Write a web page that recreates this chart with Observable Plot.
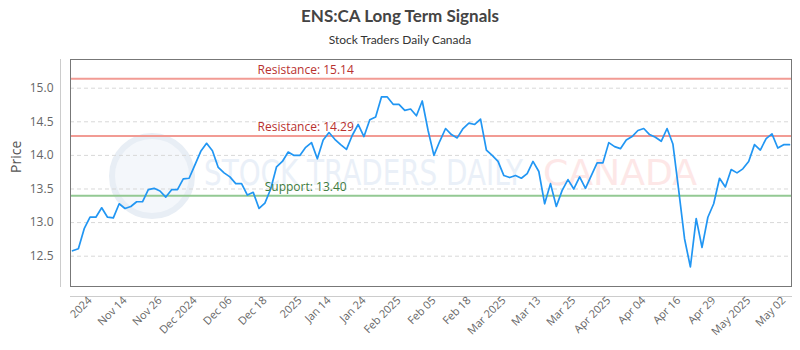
<!DOCTYPE html>
<html>
<head>
<meta charset="utf-8">
<script src="https://cdn.jsdelivr.net/npm/d3@7"></script>
<script src="https://cdn.jsdelivr.net/npm/@observablehq/plot@0.6"></script>
<style>
  html, body { margin: 0; padding: 0; background: #fff; }
  #wrap { width: 800px; }
  #title { height: 30px; line-height: 32px; text-align: center; font-family: Lato, sans-serif; font-weight: bold; font-size: 17px; color: #444; }
  #subtitle { height: 20px; line-height: 20px; text-align: center; font-family: Lato, sans-serif; font-size: 12px; color: #333; }
</style>
</head>
<body>
<div id="wrap">
  <div id="title">ENS:CA Long Term Signals</div>
  <div id="subtitle">Stock Traders Daily Canada</div>
  <div id="chart"></div>
</div>
<script>
// Daily closing prices
const prices = [
  12.58, 12.61, 12.91, 13.08, 13.08, 13.22, 13.08, 13.07, 13.28, 13.21,
  13.24, 13.31, 13.31, 13.49, 13.51, 13.47, 13.38, 13.49, 13.49, 13.65,
  13.66, 13.86, 14.06, 14.18, 14.07, 13.82, 13.74, 13.68, 13.58, 13.58,
  13.41, 13.45, 13.21, 13.29, 13.50, 13.83, 13.91, 14.05, 14.00, 14.00,
  14.12, 14.19, 13.95, 14.23, 14.34, 14.24, 14.16, 14.09, 14.30, 14.46,
  14.28, 14.53, 14.57, 14.87, 14.87, 14.76, 14.76, 14.67, 14.69, 14.59,
  14.81, 14.37, 14.00, 14.21, 14.40, 14.31, 14.26, 14.40, 14.48, 14.46,
  14.54, 14.08, 14.00, 13.91, 13.70, 13.67, 13.70, 13.66, 13.73, 13.91,
  13.76, 13.28, 13.58, 13.24, 13.48, 13.64, 13.50, 13.68, 13.51, 13.70,
  13.89, 13.89, 14.19, 14.13, 14.10, 14.23, 14.28, 14.37, 14.40, 14.31,
  14.27, 14.21, 14.40, 14.17, 13.48, 12.76, 12.34, 13.06, 12.63, 13.08,
  13.28, 13.66, 13.53, 13.79, 13.74, 13.80, 13.91, 14.16, 14.08, 14.25,
  14.32, 14.11, 14.16, 14.16
];

// X-axis tick positions (point index) and their labels
const tickIdx = [3, 9, 15, 21, 27, 33, 39, 44, 50, 56, 62, 68, 74, 80, 86, 92, 98, 104, 110, 116, 122];
const tickLabels = ["2024", "Nov 14", "Nov 26", "Dec 2024", "Dec 06", "Dec 18", "2025", "Jan 14", "Jan 24",
  "Feb 2025", "Feb 05", "Feb 18", "Mar 2025", "Mar 13", "Mar 25", "Apr 2025", "Apr 04", "Apr 16", "Apr 29",
  "May 2025", "May 02"];

// Y ticks
const yTicks = [12.5, 13.0, 13.5, 14.0, 14.5, 15.0];
const yLabel = "Price";

// Signal levels
const levelNames = ["Resistance", "Resistance", "Support"];
const levelValues = [15.14, 14.29, 13.40];
const levelLineColors = ["#f29b94", "#f29b94", "#93c993"];
const levelTextColors = ["#b8312f", "#b8312f", "#3d7a3d"];
const levelLabelIdx = 40;

const data = prices.map((p, i) => ({i, p}));
const levels = levelValues.map((v, k) => ({
  name: levelNames[k], value: v, line: levelLineColors[k], text: levelTextColors[k]
}));

const chart = Plot.plot({
  width: 800,
  height: 300,
  marginTop: 9,
  marginBottom: 64,
  marginLeft: 70,
  marginRight: 9,
  style: {fontFamily: "'Open Sans', sans-serif", fontSize: "11px", color: "#666", background: "transparent"},
  color: {type: "identity"},
  x: {domain: [-0.35, 123.35]},
  y: {domain: [12.049, 15.427]},
  marks: [
    Plot.gridY(yTicks, {stroke: "#d8d8d8", strokeOpacity: 1, strokeDasharray: "4,3"}),
    Plot.ruleY(levels, {y: "value", stroke: "line", strokeWidth: 2}),
    Plot.lineY(data, {x: "i", y: "p", stroke: "#2196f3", strokeWidth: 1.7}),
    Plot.text(levels, {
      x: () => levelLabelIdx, y: "value",
      text: d => `${d.name}: ${d.value.toFixed(2)}`,
      fill: "text", dy: -9, fontSize: 12, textAnchor: "middle"
    }),
    Plot.frame({stroke: "#777"}),
    Plot.frame({anchor: "left", dx: -10, stroke: "#ccc"}),
    Plot.frame({anchor: "bottom", dy: 10, stroke: "#ccc"}),
    Plot.axisY({
      ticks: yTicks, tickFormat: d3.format(".1f"), tickSize: 0, tickPadding: 17,
      fontSize: 12, label: null
    }),
    Plot.text([yLabel], {
      frameAnchor: "left", dx: -54, rotate: -90, fontSize: 14, fill: "#555", text: d => d
    }),
    Plot.axisX({
      ticks: tickIdx, tickFormat: d => tickLabels[tickIdx.indexOf(d)],
      tickRotate: -45, tickSize: 0, tickPadding: 12, fontSize: 11, label: null
    })
  ]
});

document.getElementById("chart").appendChild(chart);

// faint watermark behind the marks
const svg = d3.select(chart);
const wm = svg.insert("g", ":first-child").attr("aria-label", "watermark").attr("text-anchor", "start");
wm.append("circle").attr("cx", 152).attr("cy", 126).attr("r", 40)
  .attr("fill", "#f4f7fb").attr("stroke", "#e8eef5").attr("stroke-width", 6);
wm.append("text").attr("x", 204).attr("y", 135).attr("font-size", 35)
  .attr("font-family", "'DejaVu Sans', sans-serif").attr("fill", "#eaf0f8")
  .attr("textLength", 319).attr("lengthAdjust", "spacingAndGlyphs").text("STOCK TRADERS DAILY");
wm.append("text").attr("x", 543).attr("y", 135).attr("font-size", 35)
  .attr("font-family", "'DejaVu Sans', sans-serif").attr("fill", "#fde7e7")
  .attr("textLength", 154).attr("lengthAdjust", "spacingAndGlyphs").text("CANADA");
</script>
</body>
</html>
